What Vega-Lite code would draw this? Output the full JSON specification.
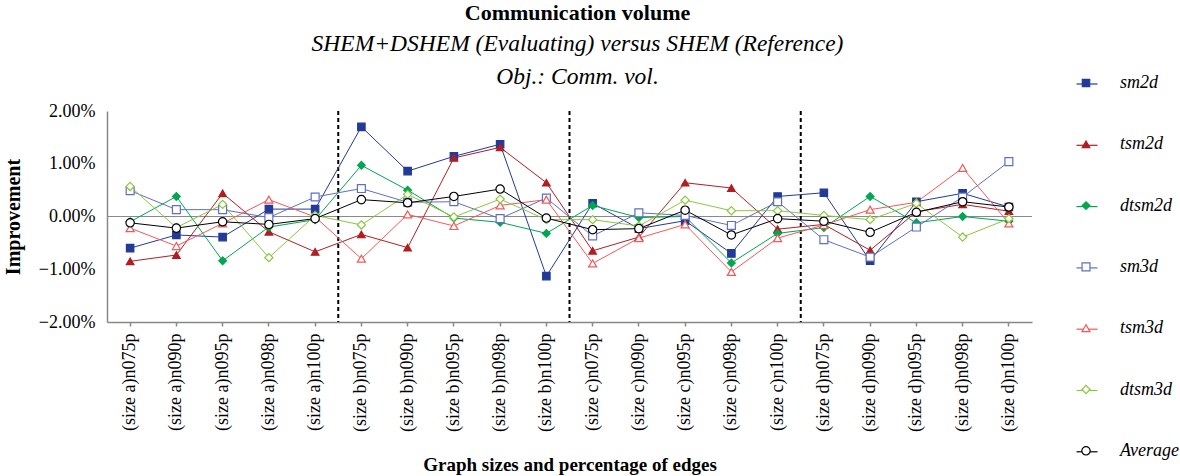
{
  "$schema": "https://vega.github.io/schema/vega-lite/v6.json",
  "width": 925,
  "height": 211,
  "autosize": {"type": "none"},
  "padding": {"left": 107, "top": 111, "right": 148, "bottom": 154},
  "background": "white",
  "title": {
    "text": "Communication volume",
    "subtitle": ["SHEM+DSHEM (Evaluating) versus SHEM (Reference)", "Obj.: Comm. vol."],
    "font": "Liberation Serif",
    "fontSize": 22,
    "fontWeight": "bold",
    "color": "black",
    "subtitleFont": "Liberation Serif",
    "subtitleFontSize": 23.5,
    "subtitleFontStyle": "italic",
    "subtitleColor": "black",
    "subtitlePadding": 7,
    "subtitleLineHeight": 33,
    "anchor": "middle",
    "dx": 8,
    "offset": -17
  },
  "datasets": {
    "main": [
      {"cat": "(size a)n075p", "sm2d": -0.0060, "tsm2d": -0.0085, "dtsm2d": -0.0010, "sm3d": 0.0049, "tsm3d": -0.0022, "dtsm3d": 0.0057, "Average": -0.0012},
      {"cat": "(size a)n090p", "sm2d": -0.0035, "tsm2d": -0.0073, "dtsm2d": 0.0038, "sm3d": 0.0013, "tsm3d": -0.0056, "dtsm3d": -0.0021, "Average": -0.0022},
      {"cat": "(size a)n095p", "sm2d": -0.0039, "tsm2d": 0.0044, "dtsm2d": -0.0084, "sm3d": 0.0013, "tsm3d": -0.0013, "dtsm3d": 0.0023, "Average": -0.0010},
      {"cat": "(size a)n098p", "sm2d": 0.0014, "tsm2d": -0.0029, "dtsm2d": -0.0020, "sm3d": -0.0002, "tsm3d": 0.0032, "dtsm3d": -0.0078, "Average": -0.0015},
      {"cat": "(size a)n100p", "sm2d": 0.0014, "tsm2d": -0.0067, "dtsm2d": -0.0006, "sm3d": 0.0037, "tsm3d": -0.0001, "dtsm3d": 0.0002, "Average": -0.0004},
      {"cat": "(size b)n075p", "sm2d": 0.0170, "tsm2d": -0.0034, "dtsm2d": 0.0097, "sm3d": 0.0053, "tsm3d": -0.0080, "dtsm3d": -0.0016, "Average": 0.0032},
      {"cat": "(size b)n090p", "sm2d": 0.0086, "tsm2d": -0.0059, "dtsm2d": 0.0050, "sm3d": 0.0027, "tsm3d": 0.0004, "dtsm3d": 0.0042, "Average": 0.0026},
      {"cat": "(size b)n095p", "sm2d": 0.0114, "tsm2d": 0.0111, "dtsm2d": -0.0003, "sm3d": 0.0028, "tsm3d": -0.0018, "dtsm3d": -0.0001, "Average": 0.0038},
      {"cat": "(size b)n098p", "sm2d": 0.0137, "tsm2d": 0.0131, "dtsm2d": -0.0011, "sm3d": -0.0004, "tsm3d": 0.0021, "dtsm3d": 0.0033, "Average": 0.0052},
      {"cat": "(size b)n100p", "sm2d": -0.0113, "tsm2d": 0.0064, "dtsm2d": -0.0032, "sm3d": 0.0035, "tsm3d": 0.0032, "dtsm3d": -0.0006, "Average": -0.0003},
      {"cat": "(size c)n075p", "sm2d": 0.0025, "tsm2d": -0.0065, "dtsm2d": 0.0021, "sm3d": -0.0037, "tsm3d": -0.0089, "dtsm3d": -0.0006, "Average": -0.0025},
      {"cat": "(size c)n090p", "sm2d": -0.0023, "tsm2d": -0.0039, "dtsm2d": -0.0002, "sm3d": 0.0007, "tsm3d": -0.0041, "dtsm3d": -0.0018, "Average": -0.0023},
      {"cat": "(size c)n095p", "sm2d": -0.0008, "tsm2d": 0.0064, "dtsm2d": 0.0000, "sm3d": 0.0002, "tsm3d": -0.0015, "dtsm3d": 0.0031, "Average": 0.0012},
      {"cat": "(size c)n098p", "sm2d": -0.0070, "tsm2d": 0.0054, "dtsm2d": -0.0088, "sm3d": -0.0017, "tsm3d": -0.0105, "dtsm3d": 0.0011, "Average": -0.0035},
      {"cat": "(size c)n100p", "sm2d": 0.0038, "tsm2d": -0.0024, "dtsm2d": -0.0032, "sm3d": 0.0028, "tsm3d": -0.0041, "dtsm3d": 0.0011, "Average": -0.0004},
      {"cat": "(size d)n075p", "sm2d": 0.0045, "tsm2d": -0.0015, "dtsm2d": -0.0021, "sm3d": -0.0044, "tsm3d": -0.0016, "dtsm3d": 0.0002, "Average": -0.0009},
      {"cat": "(size d)n090p", "sm2d": -0.0084, "tsm2d": -0.0064, "dtsm2d": 0.0038, "sm3d": -0.0077, "tsm3d": 0.0013, "dtsm3d": -0.0006, "Average": -0.0030},
      {"cat": "(size d)n095p", "sm2d": 0.0028, "tsm2d": 0.0009, "dtsm2d": -0.0012, "sm3d": -0.0020, "tsm3d": 0.0027, "dtsm3d": 0.0025, "Average": 0.0008},
      {"cat": "(size d)n098p", "sm2d": 0.0044, "tsm2d": 0.0023, "dtsm2d": 0.0000, "sm3d": 0.0037, "tsm3d": 0.0092, "dtsm3d": -0.0039, "Average": 0.0028},
      {"cat": "(size d)n100p", "sm2d": 0.0018, "tsm2d": 0.0010, "dtsm2d": -0.0009, "sm3d": 0.0104, "tsm3d": -0.0013, "dtsm3d": -0.0004, "Average": 0.0018}
    ],
    "bounds": [
      {"cat": "(size b)n075p"},
      {"cat": "(size c)n075p"},
      {"cat": "(size d)n075p"}
    ]
  },
  "layer": [
    {
      "data": {"values": [{}]},
      "mark": {"type": "rule", "color": "#8a8a8a", "strokeWidth": 1},
      "encoding": {"y": {"datum": 0, "type": "quantitative"}}
    },
    {
      "data": {"name": "bounds"},
      "mark": {"type": "rule", "color": "black", "strokeWidth": 2, "strokeDash": [4, 3]},
      "encoding": {"x": {"field": "cat", "type": "nominal", "bandPosition": 0}}
    },
    {
      "data": {"name": "main"},
      "transform": [{"fold": ["sm2d", "tsm2d", "dtsm2d", "sm3d", "tsm3d", "dtsm3d", "Average"], "as": ["series", "value"]}],
      "layer": [
        {
          "mark": {"type": "line", "strokeWidth": 1},
          "encoding": {
            "x": {
              "field": "cat", "type": "nominal",
              "scale": {"type": "band", "paddingInner": 0, "paddingOuter": 0, "domain": ["(size a)n075p", "(size a)n090p", "(size a)n095p", "(size a)n098p", "(size a)n100p", "(size b)n075p", "(size b)n090p", "(size b)n095p", "(size b)n098p", "(size b)n100p", "(size c)n075p", "(size c)n090p", "(size c)n095p", "(size c)n098p", "(size c)n100p", "(size d)n075p", "(size d)n090p", "(size d)n095p", "(size d)n098p", "(size d)n100p"]},
              "axis": {
                "title": "Graph sizes and percentage of edges",
                "labelAngle": -90,
                "labelFont": "Liberation Serif", "labelFontSize": 18, "labelColor": "black", "labelPadding": 7, "labelLimit": 0,
                "tickSize": 4, "tickColor": "#888888", "tickWidth": 1.5,
                "domainColor": "#888888", "domainWidth": 1.5,
                "grid": false,
                "titleFont": "Liberation Serif", "titleFontSize": 19, "titleFontWeight": "bold", "titleColor": "black", "titlePadding": 24
              }
            },
            "y": {
              "field": "value", "type": "quantitative",
              "scale": {"domain": [-0.02, 0.02], "nice": false, "zero": false},
              "axis": {
                "title": "Improvement",
                "format": ".2%",
                "values": [-0.02, -0.01, 0, 0.01, 0.02],
                "ticks": false, "grid": false,
                "labelFont": "Liberation Serif", "labelFontSize": 18, "labelColor": "black", "labelPadding": 12,
                "domainColor": "#888888", "domainWidth": 1.5,
                "titleFont": "Liberation Serif", "titleFontSize": 20, "titleFontWeight": "bold", "titleColor": "black", "titlePadding": 15
              }
            },
            "color": {
              "field": "series", "type": "nominal",
              "sort": ["sm2d", "tsm2d", "dtsm2d", "sm3d", "tsm3d", "dtsm3d", "Average"],
              "scale": {"range": ["#233a97", "#b01e23", "#00a651", "#5f6fc1", "#f25a5a", "#8cc63f", "#000000"]},
              "legend": {
                "orient": "none", "legendX": 968.5, "legendY": -38.5, "title": null, "padding": 0,
                "symbolType": "stroke", "symbolSize": 441, "symbolStrokeWidth": 1.2,
                "labelFont": "Liberation Serif", "labelFontSize": 18, "labelExpr": "''",
                "rowPadding": 40.3, "labelOffset": 25
              }
            }
          }
        },
        {
          "mark": {"type": "point", "filled": false, "strokeWidth": 1.2, "opacity": 1},
          "encoding": {
            "x": {"field": "cat", "type": "nominal"},
            "y": {"field": "value", "type": "quantitative"},
            "stroke": {
              "field": "series", "type": "nominal",
              "scale": {"domain": ["sm2d", "tsm2d", "dtsm2d", "sm3d", "tsm3d", "dtsm3d", "Average"], "range": ["#233a97", "#b01e23", "#00a651", "#5f6fc1", "#f25a5a", "#8cc63f", "#000000"]}
            },
            "fill": {
              "field": "series", "type": "nominal",
              "scale": {"domain": ["sm2d", "tsm2d", "dtsm2d", "sm3d", "tsm3d", "dtsm3d", "Average"], "range": ["#233a97", "#b01e23", "#00a651", "#ffffff", "#ffffff", "#ffffff", "#ffffff"]},
              "legend": {
                "orient": "none", "legendX": 970, "legendY": -37, "title": null, "padding": 0,
                "labelFont": "Liberation Serif", "labelFontStyle": "italic", "labelFontSize": 18, "labelColor": "black",
                "rowPadding": 43.3, "labelOffset": 25, "symbolStrokeWidth": 1.2
              }
            },
            "shape": {
              "field": "series", "type": "nominal",
              "scale": {"domain": ["sm2d", "tsm2d", "dtsm2d", "sm3d", "tsm3d", "dtsm3d", "Average"], "range": ["square", "triangle-up", "diamond", "square", "triangle-up", "diamond", "circle"]}
            },
            "size": {
              "field": "series", "type": "nominal",
              "scale": {"domain": ["sm2d", "tsm2d", "dtsm2d", "sm3d", "tsm3d", "dtsm3d", "Average"], "range": [55, 70, 81, 55, 70, 81, 90]}
            }
          }
        }
      ]
    }
  ],
  "config": {
    "view": {"stroke": null},
    "font": "Liberation Serif"
  }
}
